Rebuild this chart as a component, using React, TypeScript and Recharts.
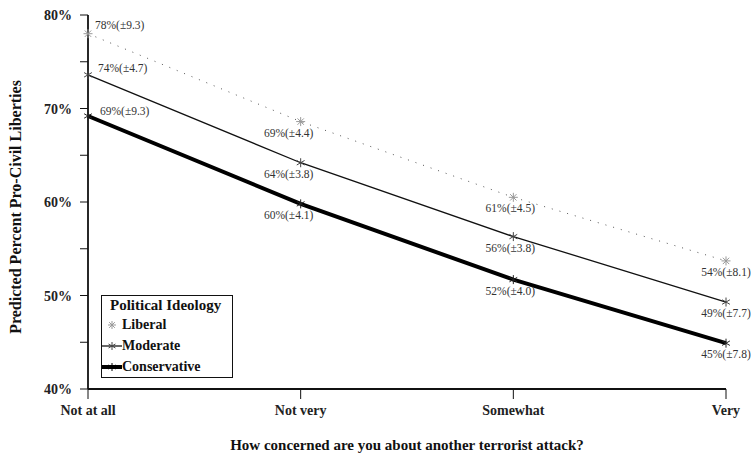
import { LineChart, Line, XAxis, YAxis, Legend } from "recharts";

const categories = ["Not at all", "Not very", "Somewhat", "Very"];
const liberal = [78.0, 68.6, 60.5, 53.7];
const moderate = [73.6, 64.2, 56.3, 49.3];
const conservative = [69.2, 59.8, 51.7, 44.9];
const liberalLabels = ["78%(±9.3)", "69%(±4.4)", "61%(±4.5)", "54%(±8.1)"];
const moderateLabels = ["74%(±4.7)", "64%(±3.8)", "56%(±3.8)", "49%(±7.7)"];
const conservativeLabels = ["69%(±9.3)", "60%(±4.1)", "52%(±4.0)", "45%(±7.8)"];
const yTicks = [40, 45, 50, 55, 60, 65, 70, 75, 80];

const data = categories.map((name, i) => ({
  name,
  liberal: liberal[i],
  moderate: moderate[i],
  conservative: conservative[i],
}));

const FONT = "'Liberation Serif', 'DejaVu Serif', serif";

function star(cx: number, cy: number, r: number, color: string, w: number, eight = false) {
  const angles = eight ? [90, 45, 0, -45] : [90, 30, -30];
  return (
    <g>
      {angles.map((a) => {
        const dx = r * Math.cos((a * Math.PI) / 180);
        const dy = r * Math.sin((a * Math.PI) / 180);
        return (
          <line key={a} x1={cx - dx} y1={cy - dy} x2={cx + dx} y2={cy + dy} stroke={color} strokeWidth={w} />
        );
      })}
    </g>
  );
}

const makeDot = (color: string, w: number, eight = false) => (props: any) => {
  const { cx, cy, index } = props;
  if (cx == null || cy == null) return <g key={index} />;
  return <g key={index}>{star(cx, cy, 4.5, color, w, eight)}</g>;
};

const firstOffset: Record<string, [number, number]> = {
  liberal: [7, -5],
  moderate: [10, -3],
  conservative: [12, -1],
};
const nextDx = [0, -12, -3, 0];

const makeLabel = (key: string, labels: string[]) => (props: any) => {
  const { x, y, index } = props;
  const first = index === 0;
  const tx = first ? x + firstOffset[key][0] : x + nextDx[index];
  const ty = first ? y + firstOffset[key][1] : y + 15;
  return (
    <text
      x={tx}
      y={ty}
      textAnchor={first ? "start" : "middle"}
      fontFamily={FONT}
      fontSize={11.5}
      fill="#333"
    >
      {labels[index]}
    </text>
  );
};

const YTick = (props: any) => {
  const { x, y, payload } = props;
  if (payload.value % 10 !== 0) return <g />;
  return (
    <text x={x} y={y} dy={5} textAnchor="end" fontFamily={FONT} fontWeight="bold" fontSize={14} fill="#222">
      {payload.value}%
    </text>
  );
};

const XTick = (props: any) => {
  const { x, y, payload } = props;
  return (
    <text x={x} y={y} dy={14} textAnchor="middle" fontFamily={FONT} fontWeight="bold" fontSize={14} fill="#222">
      {payload.value}
    </text>
  );
};

const legendItems = [
  { name: "Liberal", color: "#999", w: 1, line: 0, eight: true },
  { name: "Moderate", color: "#444", w: 1, line: 1.2, eight: false },
  { name: "Conservative", color: "#000", w: 1, line: 4, eight: false },
];

const LegendBox = () => (
  <div
    style={{
      border: "1.5px solid #111",
      background: "#fff",
      width: 132,
      height: 83,
      fontFamily: FONT,
      fontWeight: "bold",
      fontSize: 14,
      color: "#111",
      boxSizing: "border-box",
      padding: "1px 0 0 0",
      lineHeight: "21px",
    }}
  >
    <div style={{ paddingLeft: 8, lineHeight: "17px", fontSize: 15 }}>Political Ideology</div>
    {legendItems.map((it) => (
      <div key={it.name} style={{ display: "flex", alignItems: "center", height: 21 }}>
        <svg width={20} height={12} style={{ display: "block" }}>
          {it.line > 0 && <line x1={0} y1={6} x2={20} y2={6} stroke="#000" strokeWidth={it.line} />}
          {star(10, 6, 4, it.color, it.w, it.eight)}
        </svg>
        <span>{it.name}</span>
      </div>
    ))}
  </div>
);

export default function App() {
  return (
    <div style={{ position: "absolute", left: 0, top: 0, background: "#fff" }}>
      <LineChart
        width={756}
        height={456}
        data={data}
        margin={{ top: 15, right: 30, left: 0, bottom: 0 }}
      >
        <XAxis
          dataKey="name"
          tick={<XTick />}
          tickSize={10}
          axisLine={{ stroke: "#111", strokeWidth: 1.8 }}
          tickLine={{ stroke: "#111", strokeWidth: 1 }}
          height={67}
          interval={0}
          label={{
            content: (p: any) => {
              const vb = p.viewBox;
              return (
                <text
                  x={407}
                  y={vb.y + vb.height - 6}
                  textAnchor="middle"
                  fontFamily={FONT}
                  fontWeight="bold"
                  fontSize={15}
                  fill="#111"
                >
                  How concerned are you about another terrorist attack?
                </text>
              );
            },
          }}
        />
        <YAxis
          domain={[40, 80]}
          ticks={yTicks}
          width={88}
          tick={<YTick />}
          tickSize={8}
          tickMargin={8}
          axisLine={{ stroke: "#111", strokeWidth: 1.8 }}
          tickLine={{ stroke: "#111", strokeWidth: 1 }}
          interval={0}
          label={{
            content: () => (
              <text
                x={0}
                y={0}
                transform="translate(21, 207) rotate(-90)"
                textAnchor="middle"
                fontFamily={FONT}
                fontWeight="bold"
                fontSize={16}
                fill="#111"
              >
                Predicted Percent Pro-Civil Liberties
              </text>
            ),
          }}
        />
        <Legend
          verticalAlign="middle"
          align="center"
          layout="vertical"
          wrapperStyle={{ left: 101, top: 295, width: 132 }}
          content={<LegendBox />}
        />
        <Line
          dataKey="liberal"
          stroke="#555"
          strokeWidth={1}
          strokeDasharray="1 7"
          dot={makeDot("#999", 1, true)}
          label={makeLabel("liberal", liberalLabels)}
          isAnimationActive={false}
        />
        <Line
          dataKey="moderate"
          stroke="#111"
          strokeWidth={1.3}
          dot={makeDot("#444", 1)}
          label={makeLabel("moderate", moderateLabels)}
          isAnimationActive={false}
        />
        <Line
          dataKey="conservative"
          stroke="#000"
          strokeWidth={4}
          dot={makeDot("#222", 1)}
          label={makeLabel("conservative", conservativeLabels)}
          isAnimationActive={false}
        />
      </LineChart>
    </div>
  );
}
